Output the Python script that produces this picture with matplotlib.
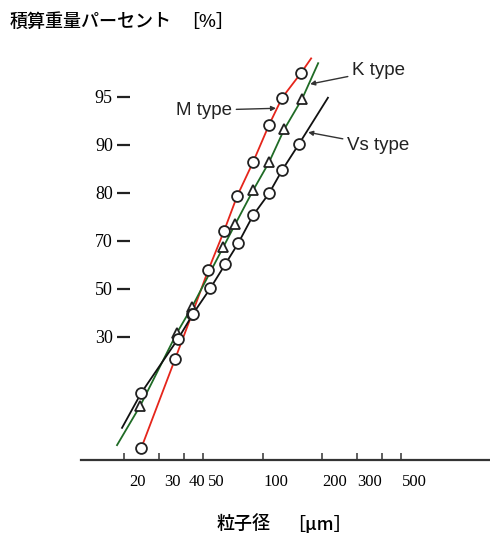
import numpy as np
import matplotlib
matplotlib.use("Agg")
import matplotlib.pyplot as plt
from matplotlib.transforms import ScaledTranslation

# particle size [um] and cumulative weight percent [%]
m_size = [24.4, 36.2, 44.1, 53.1, 64.0, 74.4, 89.6, 108, 125.6, 156.7]
m_pct = [8.4, 25.4, 39.6, 57.6, 72.1, 79.3, 86.4, 92.1, 94.9, 97.0]
m_line_end = (176, 98.2)

k_size = [24.1, 37.0, 44.1, 63.2, 72.7, 89.6, 108, 128.6, 158.6]
k_pct = [15.6, 31.7, 42.5, 67.2, 73.4, 80.5, 86.4, 91.6, 94.8]
k_line_start = (18.4, 8.7)
k_line_end = (191, 97.8)

vs_size = [24.4, 37.5, 44.6, 54.4, 64.7, 75.3, 89.6, 108, 125.6, 153]
vs_pct = [18.3, 29.6, 39.6, 50.1, 60.1, 68.9, 75.3, 79.9, 84.7, 90.1]
vs_line_start = (19.5, 11.0)
vs_line_end = (214, 94.9)

y_ticks = [30, 50, 70, 80, 90, 95]
x_ticks = [20, 30, 40, 50, 100, 200, 300, 400, 500]
x_tick_labels = ["20", "30", "40", "50", "100", "200", "300", "", "500"]

# the printed scale puts its percent marks evenly apart
pct_knots = [0.1, 1, 5, 10, 20, 30, 50, 70, 80, 90, 95, 99, 99.9]
pos_knots = [-5, -4, -3, -2, -1, 0, 1, 2, 3, 4, 5, 6, 7]


def forward(p):
    return np.interp(p, pct_knots, pos_knots)


def inverse(v):
    return np.interp(v, pos_knots, pct_knots)


cjk = ["Noto Sans CJK JP", "DejaVu Sans"]

fig = plt.figure(figsize=(4.9, 5.33), dpi=100)
ax = fig.add_axes([81 / 490, 73 / 533, 409 / 490, 410 / 533])

ax.set_xscale("log")
ax.set_yscale("function", functions=(forward, inverse))
ax.set_xlim(12.1, 1410)
ax.set_ylim(7.15, 98.9)

# lines
ax.plot(m_size + [m_line_end[0]], m_pct + [m_line_end[1]],
        color="#e5251b", lw=1.3, zorder=2)
ax.plot([k_line_start[0]] + k_size + [k_line_end[0]],
        [k_line_start[1]] + k_pct + [k_line_end[1]],
        color="#1f6b25", lw=1.3, zorder=2)
ax.plot([vs_line_start[0]] + vs_size + [vs_line_end[0]],
        [vs_line_start[1]] + vs_pct + [vs_line_end[1]],
        color="#111111", lw=1.3, zorder=2)

# markers
ax.plot(m_size, m_pct, ls="none", marker="o", ms=7.8, mfc="white",
        mec="#222222", mew=1.3, zorder=4)
ax.plot(vs_size, vs_pct, ls="none", marker="o", ms=7.8, mfc="white",
        mec="#222222", mew=1.3, zorder=4)
ax.plot(k_size, k_pct, ls="none", marker="^", ms=7.8, mfc="white",
        mec="#222222", mew=1.3, zorder=3)

# labels for the three lines
arrow = dict(arrowstyle="-|>", color="#333333", lw=1.0,
             mutation_scale=7, shrinkA=1, shrinkB=0)
ax.annotate("M type", xy=(117, 93.8), xytext=(70.2, 93.6), ha="right",
            va="center", fontsize=13.5, family="Liberation Sans",
            color="#222222", arrowprops=arrow)
ax.annotate("K type", xy=(174, 96.06), xytext=(283, 97.2), ha="left",
            va="center", fontsize=13.5, family="Liberation Sans",
            color="#222222", arrowprops=arrow)
ax.annotate("Vs type", xy=(170, 91.3), xytext=(267, 89.85), ha="left",
            va="center", fontsize=13.5, family="Liberation Sans",
            color="#222222", arrowprops=arrow)

# axes styling
for side in ["top", "right", "left"]:
    ax.spines[side].set_visible(False)
ax.spines["left"].set_position(("axes", 49 / 409))
ax.spines["bottom"].set_linewidth(1.6)
ax.spines["bottom"].set_color("#333333")

ax.set_yticks(y_ticks)
ax.set_yticklabels([str(t) for t in y_ticks], family="Liberation Serif",
                   fontsize=13)
ax.yaxis.set_minor_locator(plt.NullLocator())
ax.tick_params(axis="y", direction="out", length=9.4, width=1.6,
               color="#222222", pad=3)

ax.set_xticks(x_ticks)
ax.set_xticklabels([])
ax.xaxis.set_minor_locator(plt.NullLocator())
ax.tick_params(axis="x", direction="in", length=5, width=1.1,
               color="#333333")

# the printed size labels sit a little to the right of their marks
shift = ScaledTranslation(13 / 100, -22 / 100, fig.dpi_scale_trans)
for val, lab in zip(x_ticks, x_tick_labels):
    ax.text(val, 0, lab, transform=ax.get_xaxis_transform() + shift,
            ha="center", va="center", fontsize=12,
            family="Liberation Serif")

fig.text(10 / 490, 1 - 22 / 533, "積算重量パーセント",
         ha="left", va="center", fontsize=13, weight="medium", family=cjk)
fig.text(208 / 490, 1 - 22 / 533, "［%］",
         ha="center", va="center", fontsize=13, weight="medium", family=cjk)
fig.text(243.5 / 490, 9 / 533, "粒子径", ha="center", va="center",
         fontsize=13, weight="medium", family=cjk)
fig.text(319 / 490, 9 / 533, "［μm］", ha="center", va="center",
         fontsize=13, weight="medium", family=cjk)

fig.savefig("out.png", dpi=100, facecolor="white")
